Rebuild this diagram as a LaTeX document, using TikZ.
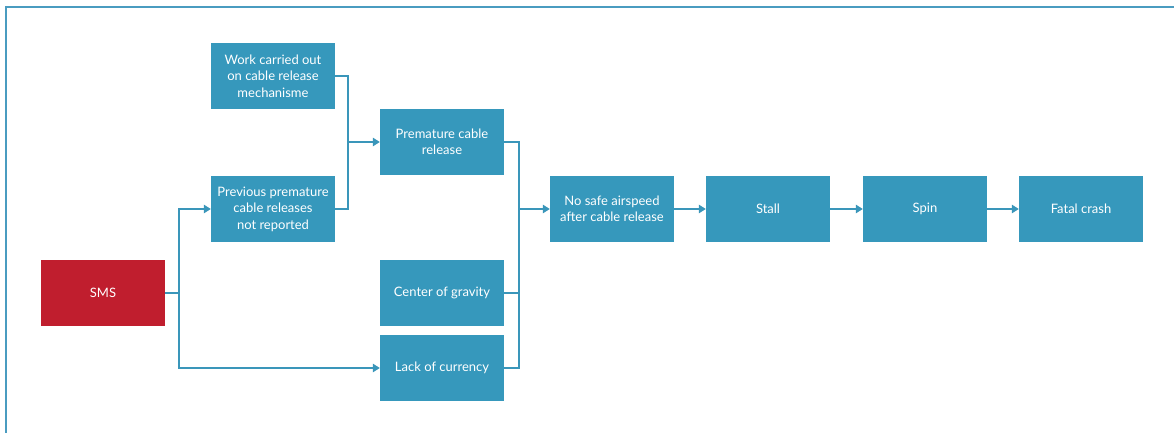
\documentclass[tikz,border=0pt]{standalone}
\usepackage{fontspec}
\setmainfont{Lato}
\usetikzlibrary{arrows.meta}
\definecolor{boxteal}{HTML}{3698BC}
\definecolor{linkteal}{HTML}{3A96BA}
\definecolor{smsred}{HTML}{C01E2E}
\definecolor{frameteal}{HTML}{4A9CC0}
\tikzset{
  box/.style={fill=boxteal, text=white, minimum width=124pt, minimum height=66pt,
    inner sep=2pt, align=center, font=\fontsize{13}{16.5}\selectfont},
  redbox/.style={box, fill=smsred},
  link/.style={draw=linkteal, line width=1.3pt},
  arr/.style={link, -{Triangle[length=7pt,width=8.5pt]}},
}
\begin{document}
\begin{tikzpicture}[x=1pt,y=-1pt]
\useasboundingbox (0,0) rectangle (1174,433);
\draw[frameteal, line width=1.2pt] (6,433) -- (6,7) -- (1174,7);

\node[box] (work) at (273,76) {Work carried out\\on cable release\\mechanisme};
\node[box] (prev) at (273,209) {Previous premature\\cable releases\\not reported};
\node[box] (prem) at (442,142) {Premature cable\\release};
\node[box] (cog) at (442,293) {Center of gravity};
\node[box] (lack) at (442,368) {Lack of currency};
\node[redbox] (sms) at (103,293) {SMS};
\node[box] (nosafe) at (612,209) {No safe airspeed\\after cable release};
\node[box] (stall) at (768,209) {Stall};
\node[box] (spin) at (925,209) {Spin};
\node[box] (fatal) at (1081,209) {Fatal crash};

\coordinate (j0) at (179,293);
\coordinate (j1) at (348,142);
\coordinate (j2) at (519,209);

\draw[link] (sms.east) -- (j0);
\draw[arr] (j0) |- (prev.west);
\draw[arr] (j0) |- (lack.west);

\draw[link] (work.east) -| (j1);
\draw[link] (prev.east) -| (j1);
\draw[arr] (j1) -- (prem.west);

\draw[link] (prem.east) -| (j2);
\draw[link] (cog.east) -| (j2);
\draw[link] (lack.east) -| (j2);
\draw[arr] (j2) -- (nosafe.west);

\draw[arr] (nosafe.east) -- (stall.west);
\draw[arr] (stall.east) -- (spin.west);
\draw[arr] (spin.east) -- (fatal.west);
\end{tikzpicture}
\end{document}
